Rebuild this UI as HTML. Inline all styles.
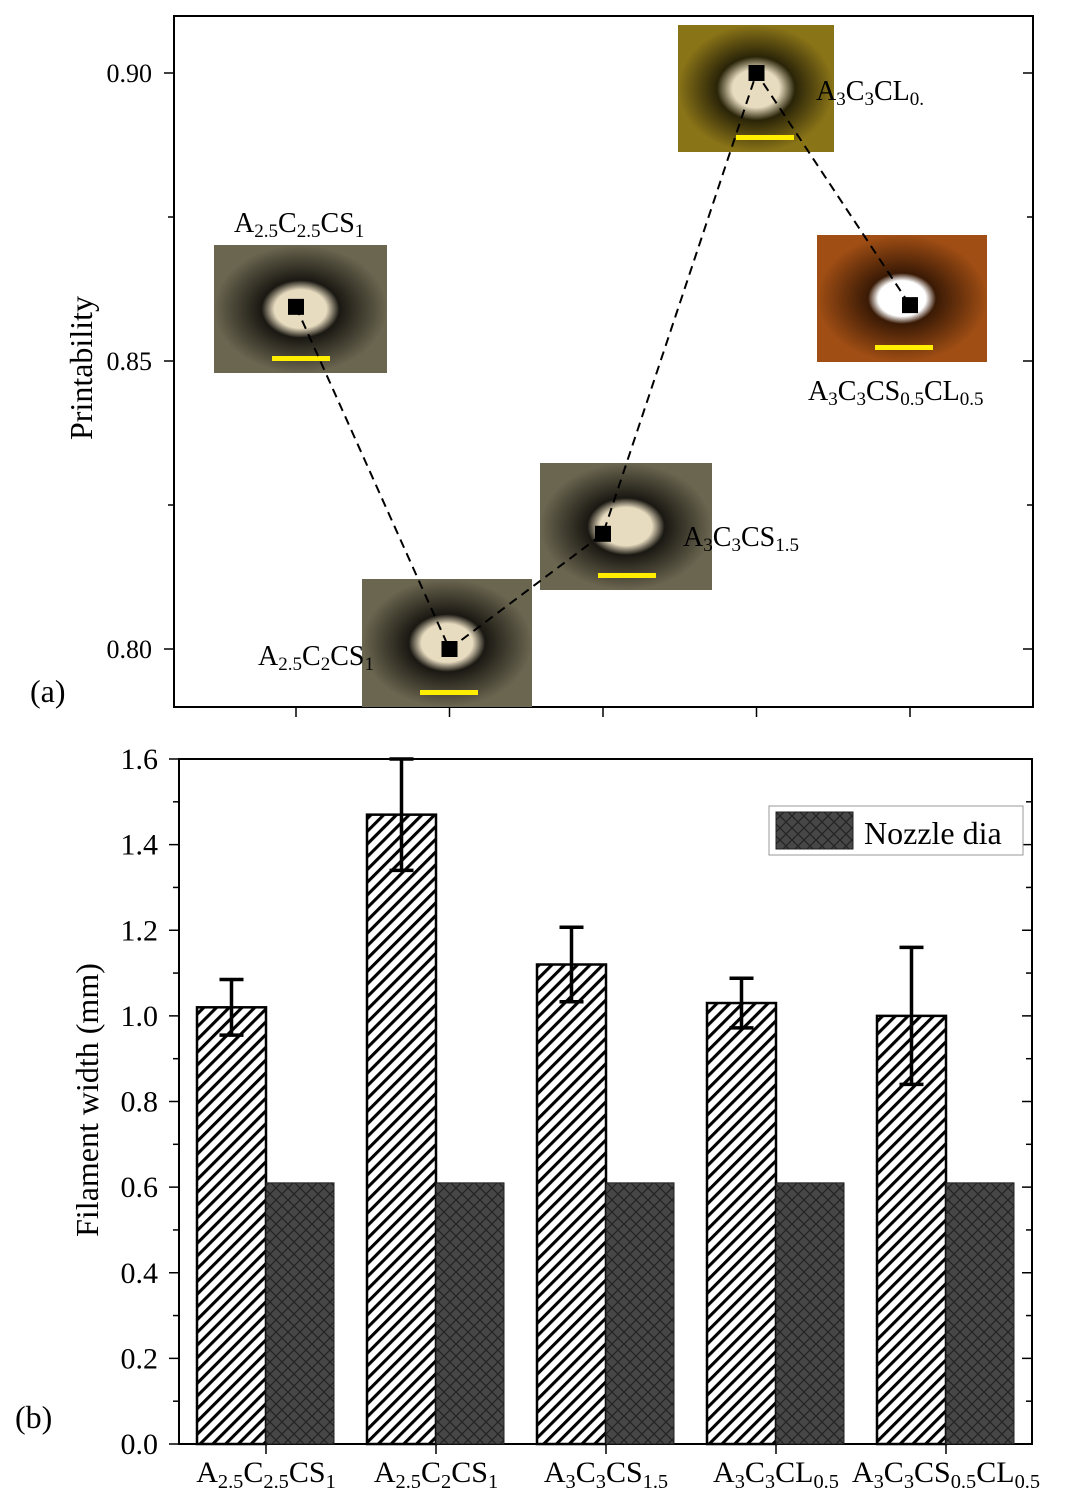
<!DOCTYPE html>
<html><head><meta charset="utf-8"><style>
body{margin:0;background:#fff;}
svg{display:block;font-family:"Liberation Serif",serif;}
</style></head><body>
<svg id="s" width="1092" height="1512" viewBox="0 0 1092 1512">
<defs>
<pattern id="diag" patternUnits="userSpaceOnUse" width="9" height="9" patternTransform="rotate(45)">
<rect width="9" height="9" fill="#fff"/><line x1="1.5" y1="0" x2="1.5" y2="9" stroke="#000" stroke-width="3.2"/>
</pattern>
<pattern id="cross" patternUnits="userSpaceOnUse" width="12" height="12">
<rect width="12" height="12" fill="#474747"/>
<path d="M0 0L12 12M12 0L0 12" stroke="#222" stroke-width="1.2"/>
</pattern>
<radialGradient id="g1"><stop offset="0.3" stop-color="#e8dcc0"/><stop offset="0.45" stop-color="#1a1812"/><stop offset="1" stop-color="#6b6650"/></radialGradient>
<radialGradient id="g4"><stop offset="0.3" stop-color="#e8dcc0"/><stop offset="0.5" stop-color="#2a2408"/><stop offset="1" stop-color="#8a7418"/></radialGradient>
<radialGradient id="g5"><stop offset="0.28" stop-color="#ffffff"/><stop offset="0.4" stop-color="#3a1a05"/><stop offset="1" stop-color="#a04e14"/></radialGradient>
</defs>
<g id="top"></g>
<g id="bot"></g>
</svg>
<script>
const NS="http://www.w3.org/2000/svg";
const samples=["A2.5C2.5CS1","A2.5C2CS1","A3C3CS1.5","A3C3CL0.5","A3C3CS0.5CL0.5"];
const printability=[0.8594,0.80,0.82,0.90,0.8597];
const pTicks=[0.80,0.85,0.90];
const widths=[1.02,1.47,1.12,1.03,1.00];
const widthErr=[0.065,0.13,0.087,0.058,0.16];
const nozzle=[0.61,0.61,0.61,0.61,0.61];
const wTicks=[0.0,0.2,0.4,0.6,0.8,1.0,1.2,1.4,1.6];

function el(p,t,a,txt){const e=document.createElementNS(NS,t);for(const k in a)e.setAttribute(k,a[k]);if(txt!==undefined)e.textContent=txt;p.appendChild(e);return e;}
function subLabel(p,x,y,parts,size){const t=el(p,'text',{x:x,y:y,'font-size':size});
 parts.forEach(([s,sub])=>{el(t,'tspan',{},s);if(sub)el(t,'tspan',{'baseline-shift':'-28%','font-size':size*0.68},sub);});return t;}

// ---- top chart
const T=document.getElementById('top');
const ty=v=>649-(v-0.80)/0.05*288;
const tx=i=>296+i*153.5;
el(T,'rect',{x:174,y:16,width:859,height:691,fill:'none',stroke:'#000','stroke-width':2});
for(let k=-1;k<=4;k++){const y=ty(0.80+k*0.025);if(y<16||y>707)continue;const maj=(k%2==0);
 const l=maj?10:6;const tk=el(T,'line',{x1:174-l,y1:y,x2:174,y2:y,stroke:'#000','stroke-width':1.5});
 el(T,'line',{x1:1033,y1:y,x2:1033-l,y2:y,stroke:'#000','stroke-width':1.5});}
pTicks.forEach(v=>{const t=el(T,'text',{x:152,y:ty(v)+9,'font-size':26,'text-anchor':'end'},v.toFixed(2));});
samples.forEach((s,i)=>{el(T,'line',{x1:tx(i),y1:707,x2:tx(i),y2:717,stroke:'#000','stroke-width':1.5});});
const yt=el(T,'text',{x:0,y:0,'font-size':32,'text-anchor':'middle',transform:'translate(92,368) rotate(-90)'},'Printability');

const pa=el(T,'text',{x:30,y:702,'font-size':32},'(a)');
const insets=[[214,245,173,128,'g1'],[362,579,170,128,'g1'],[540,463,172,127,'g1'],[678,25,156,127,'g4'],[817,235,170,127,'g5']];
insets.forEach(([x,y,w,h,g],i)=>{const r=el(T,'rect',{x:x,y:y,width:w,height:h,fill:'url(#'+g+')'});
 
 el(T,'rect',{x:x+58,y:y+h-17,width:58,height:5,fill:'#ffee00'});});
let d='';printability.forEach((v,i)=>{d+=(i?'L':'M')+tx(i)+' '+ty(v);});
const ln=el(T,'path',{d:d,fill:'none',stroke:'#000','stroke-width':2,'stroke-dasharray':'9,6'});

printability.forEach((v,i)=>{const m=el(T,'rect',{x:tx(i)-8,y:ty(v)-8,width:16,height:16,fill:'#000'});
 });
[[234,232,[['A','2.5'],['C','2.5'],['CS','1']]],[258,665,[['A','2.5'],['C','2'],['CS','1']]],[683,546,[['A','3'],['C','3'],['CS','1.5']]],[816,100,[['A','3'],['C','3'],['CL','0.']]],[808,400,[['A','3'],['C','3'],['CS','0.5'],['CL','0.5']]]].forEach(([x,y,p])=>{
 const t=subLabel(T,x,y,p,28);});

// ---- bottom chart
const B=document.getElementById('bot');
const by=v=>1444-v/1.6*685;
const gx=i=>266+i*170;
el(B,'rect',{x:179,y:759,width:853,height:685,fill:'none',stroke:'#000','stroke-width':2});
for(let k=0;k<=16;k++){const v=k*0.1,y=by(v),maj=k%2==0,l=maj?10:6;
 el(B,'line',{x1:179-l,y1:y,x2:179,y2:y,stroke:'#000','stroke-width':1.5});
 el(B,'line',{x1:1032,y1:y,x2:1032-l,y2:y,stroke:'#000','stroke-width':1.5});}
wTicks.forEach(v=>{const t=el(B,'text',{x:158,y:by(v)+10,'font-size':30,'text-anchor':'end'},v.toFixed(1));});
const yt2=el(B,'text',{x:0,y:0,'font-size':32,'text-anchor':'middle',transform:'translate(98,1100) rotate(-90)'},'Filament width (mm)');

const pb=el(B,'text',{x:15,y:1428,'font-size':32},'(b)');
const xl=[[['A','2.5'],['C','2.5'],['CS','1']],[['A','2.5'],['C','2'],['CS','1']],[['A','3'],['C','3'],['CS','1.5']],[['A','3'],['C','3'],['CL','0.5']],[['A','3'],['C','3'],['CS','0.5'],['CL','0.5']]];
samples.forEach((s,i)=>{const x=gx(i);
 el(B,'line',{x1:x,y1:1444,x2:x,y2:1454,stroke:'#000','stroke-width':1.5});
 const b=el(B,'rect',{x:x-69,y:by(widths[i]),width:69,height:by(0)-by(widths[i]),fill:'url(#diag)',stroke:'#000','stroke-width':2.5});
 
 const n=el(B,'rect',{x:x,y:by(nozzle[i]),width:68,height:by(0)-by(nozzle[i]),fill:'url(#cross)',stroke:'#222','stroke-width':1});
 
 const cx=x-34.5,hi=by(widths[i]+widthErr[i]),lo=by(widths[i]-widthErr[i]);
 const e=el(B,'path',{d:`M${cx} ${hi}V${lo}M${cx-12} ${hi}H${cx+12}M${cx-12} ${lo}H${cx+12}`,stroke:'#000','stroke-width':3.5,fill:'none'});
 
 const t=subLabel(B,0,1482,xl[i],30);t.setAttribute('text-anchor','middle');t.setAttribute('x',x);
 });
const lg=el(B,'g',{});
el(lg,'rect',{x:769,y:806,width:254,height:49,fill:'#fff',stroke:'#999','stroke-width':1});
el(lg,'rect',{x:776,y:812,width:77,height:37,fill:'url(#cross)',stroke:'#222'});
el(lg,'text',{x:864,y:844,'font-size':32},'Nozzle dia');
</script>
</body></html>
